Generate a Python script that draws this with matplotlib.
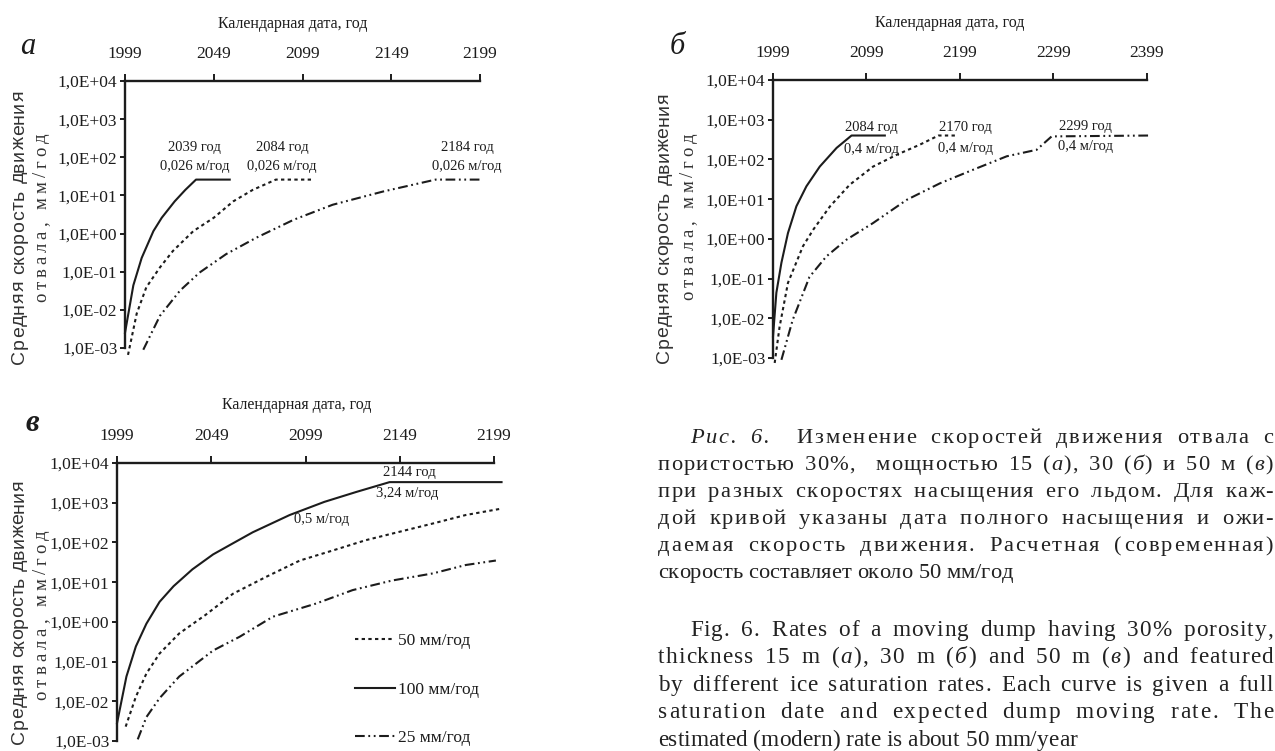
import matplotlib
matplotlib.use("Agg")
import matplotlib.pyplot as plt
from matplotlib.ticker import NullLocator
from matplotlib.font_manager import FontProperties, findfont
from matplotlib import ft2font

W, H = 1275, 751
SERIF = "Liberation Serif"
SANS = "Liberation Sans"
plt.rcParams["font.family"] = [SERIF, "DejaVu Serif"]
plt.rcParams["lines.scale_dashes"] = False

# ---- data (year, mm/год) ----
decades = [-3, -2, -1, 0, 1, 2, 3, 4]

# panel а : 15 m
a_ticks = [1999, 2049, 2099, 2149, 2199]
a_years_100 = [1999, 2003.7, 2008.4, 2015, 2019.7, 2027, 2033, 2039, 2058]
a_rate_100 = [2.5e-3, 0.044, 0.23, 1.16, 2.6, 7, 14, 26, 26]
a_years_50 = [2000.7, 2005.6, 2011, 2018.7, 2026, 2037.5, 2049, 2060, 2071, 2084, 2105]
a_rate_50 = [6.6e-4, 8e-3, 0.039, 0.13, 0.35, 1.16, 2.6, 7, 14, 26, 26]
a_years_25 = [2009.3, 2018.7, 2030, 2041, 2056, 2073, 2094, 2116, 2144.5, 2174, 2199]
a_rate_25 = [9e-4, 7e-3, 0.032, 0.095, 0.29, 0.78, 2.3, 5.7, 12.7, 26, 26]

# panel б : 30 m
b_ticks = [1999, 2099, 2199, 2299, 2399]
b_years_100 = [1999, 2002.6, 2008, 2015, 2024, 2034.7, 2049, 2067, 2083, 2118.6]
b_rate_100 = [3.5e-3, 0.044, 0.25, 1.4, 6.6, 21, 66, 195, 400, 400]
b_years_50 = [2000.8, 2006, 2015, 2031, 2042, 2060, 2081, 2106, 2131, 2156, 2176, 2197]
b_rate_50 = [7.5e-4, 6e-3, 0.078, 0.65, 1.7, 6.6, 23, 66, 130, 235, 400, 400]
b_years_25 = [2008, 2020, 2038, 2056, 2077.5, 2106, 2142, 2177.5, 2213, 2249, 2281, 2297, 2402]
b_rate_25 = [9e-4, 9e-3, 0.11, 0.36, 0.95, 2.5, 9.6, 25, 55, 120, 175, 380, 400]

# panel в : 50 m
c_ticks = [1999, 2049, 2099, 2149, 2199]
c_years_100 = [1999, 2004, 2009, 2014.6, 2021.6, 2029, 2039, 2050, 2060.5, 2071,
               2090.6, 2109, 2126, 2143.6, 2203]
c_rate_100 = [2.8e-3, 0.042, 0.24, 0.9, 3.2, 7.9, 21, 50, 95, 180, 490, 1050, 1870, 3300, 3300]
c_years_50 = [2003.6, 2009, 2014.6, 2021.6, 2032, 2046, 2060.5, 2078, 2096, 2113.6, 2131,
              2149, 2166.6, 2184, 2203]
c_rate_50 = [2.3e-3, 0.013, 0.05, 0.16, 0.51, 1.5, 5.1, 13.5, 35, 63, 114, 186, 300, 490, 710]
c_years_25 = [2010, 2014.6, 2021.6, 2032, 2050, 2064, 2081.7, 2104.7, 2124, 2145, 2166.6,
              2184, 2200]
c_rate_25 = [1.1e-3, 4e-3, 0.012, 0.042, 0.19, 0.42, 1.35, 2.9, 6.3, 11, 16.6, 27, 35]

legend_labels = ["50 мм/год", "100 мм/год", "25 мм/год"]

caption_ru = [
    "*Рис. 6.*  Изменение скоростей движения отвала с",
    "пористостью 30%,  мощностью 15 (*а*), 30 (*б*) и 50 м (*в*)",
    "при разных скоростях насыщения его льдом. Для каж-",
    "дой кривой указаны дата полного насыщения и ожи-",
    "даемая скорость движения. Расчетная (современная)",
    "скорость составляет около 50 мм/год",
]
caption_en = [
    "Fig. 6. Rates of a moving dump having 30% porosity,",
    "thickness 15 m (*а*), 30 m (*б*) and 50 m (*в*) and featured",
    "by different ice saturation rates. Each curve is given a full",
    "saturation date and expected dump moving rate. The",
    "estimated (modern) rate is about 50 mm/year",
]

INK = "#1c1c1c"
GREY = "#333333"
st_100 = dict(ls="-")
st_50 = dict(ls=(0, (2.4, 2.4)))
st_25 = dict(ls=(0, (7, 2.6, 1.3, 2.6, 1.3, 2.6)))

fig = plt.figure(figsize=(W / 100, H / 100), dpi=100)


def axes_px(l, t, r, b):
    return fig.add_axes([l / W, 1 - b / H, (r - l) / W, (b - t) / H])


def ftext(x, y, s, **kw):
    return fig.text(x / W, 1 - y / H, s, **kw)


# advance widths of single glyphs, in pixels
try:
    NO_SCALE = ft2font.LoadFlags.NO_SCALE
except AttributeError:
    NO_SCALE = ft2font.LOAD_NO_SCALE
_fonts = {}


def adv(c, family, style, size):
    key = (family, style)
    if key not in _fonts:
        _fonts[key] = ft2font.FT2Font(findfont(FontProperties(family=family, style=style)))
    f = _fonts[key]
    g = f.load_char(ord(c), flags=NO_SCALE)
    return g.horiAdvance / f.units_per_EM * size * 100 / 72


def vtext(cx, cy, s, size, family, length):
    ws = [adv(c, family, "normal", size) for c in s]
    t = (length - sum(ws)) / (len(s) - 1)
    y = cy + length / 2
    xb = cx + 0.34 * size * 100 / 72
    for c, w in zip(s, ws):
        if c != " ":
            ftext(xb, y, c, rotation=90, rotation_mode="anchor", ha="left",
                  va="baseline", fontsize=size, family=family, color=GREY)
        y -= w + t


def setup(ax, ticks):
    ax.set_yscale("log")
    ax.set_ylim(1e-3, 1e4)
    ax.set_xlim(ticks[0], ticks[-1])
    ax.set_xticks(ticks)
    ax.set_xticklabels([str(t) for t in ticks])
    ax.set_yticks([10.0 ** e for e in decades])
    ax.set_yticklabels([f"1,0E{e:+03d}" for e in decades])
    ax.yaxis.set_minor_locator(NullLocator())
    ax.xaxis.tick_top()
    for s in ["right", "bottom"]:
        ax.spines[s].set_visible(False)
    for s in ["top", "left"]:
        ax.spines[s].set_linewidth(1.7)
        ax.spines[s].set_color(INK)
    ax.tick_params(axis="x", direction="out", length=5, width=1.4, pad=9,
                   labelsize=12.5, colors=INK)
    ax.tick_params(axis="y", direction="out", length=3.5, width=1.4, pad=2,
                   labelsize=12.5, colors=INK)
    ax.patch.set_visible(False)


def curves(ax, y100, r100, y50, r50, y25, r25):
    l50, = ax.plot(y50, r50, color=INK, lw=1.5, clip_on=False, **st_50)
    l100, = ax.plot(y100, r100, color=INK, lw=1.5, clip_on=False, **st_100)
    l25, = ax.plot(y25, r25, color=INK, lw=1.5, clip_on=False, **st_25)
    return [l50, l100, l25]


def ylabel(x1, y1, len1, x2, y2, len2):
    vtext(x1, y1, "Средняя скорость движения", 14, SANS, len1)
    vtext(x2, y2, "отвала, мм/год", 13.5, SERIF, len2)


ann = dict(fontsize=10.5, ha="center", va="center", color=INK)
xlab = dict(ha="center", va="center", fontsize=11.5, color=INK)

# ---- panel а ----
ax_a = axes_px(125, 81, 480, 348)
setup(ax_a, a_ticks)
curves(ax_a, a_years_100, a_rate_100, a_years_50, a_rate_50, a_years_25, a_rate_25)
for xt, lab in [(2038.4, "2039 год"), (2087.5, "2084 год"), (2191.7, "2184 год")]:
    ax_a.text(xt, 186, lab, **ann)
    ax_a.text(xt, 56, "0,026 м/год", **ann)
ftext(293, 24, "Календарная дата, год", **xlab)
ftext(28, 47, "а", ha="center", va="center", fontsize=22, style="italic", color=INK)
ylabel(17.5, 227, 273, 40, 218, 169)

# ---- panel б ----
ax_b = axes_px(773, 80, 1147, 358)
setup(ax_b, b_ticks)
curves(ax_b, b_years_100, b_rate_100, b_years_50, b_rate_50, b_years_25, b_rate_25)
for xt, yt1, yt2, lab in [(2104.4, 620, 174, "2084 год"), (2205, 630, 190, "2170 год"),
                          (2333, 675, 210, "2299 год")]:
    ax_b.text(xt, yt1, lab, **ann)
    ax_b.text(xt, yt2, "0,4 м/год", **ann)
ftext(950, 23, "Календарная дата, год", **xlab)
ftext(677, 47, "б", ha="center", va="center", fontsize=22, style="italic", color=INK)
ylabel(662, 228, 270, 687, 217, 167)

# ---- panel в ----
ax_c = axes_px(117, 463, 494, 741)
setup(ax_c, c_ticks)
handles = curves(ax_c, c_years_100, c_rate_100, c_years_50, c_rate_50, c_years_25, c_rate_25)
ax_c.text(2154.3, 5900, "2144 год", **ann)
ax_c.text(2153.2, 1740, "3,24 м/год", **ann)
ax_c.text(2107.6, 380, "0,5 м/год", **ann)
ftext(297, 405, "Календарная дата, год", **xlab)
ftext(32, 423, "в", ha="center", va="center", fontsize=22, style="italic",
      weight="bold", color=INK)
ylabel(17, 612, 263, 40, 615, 170)
ax_c.legend(handles=handles, labels=legend_labels, loc="upper left",
            bbox_to_anchor=(355 / W, 1 - 633 / H), bbox_transform=fig.transFigure,
            frameon=False, fontsize=12.5, handlelength=2.3, handletextpad=0.15,
            labelspacing=1.86, borderpad=0, borderaxespad=0, labelcolor=INK)


# ---- justified caption, extra space spread over letters and word gaps ----
def chars_of(line):
    out, ital = [], False
    for ch in line:
        if ch == "*":
            ital = not ital
        else:
            out.append((ch, ital))
    return out


def paragraph(lines, baselines, left, right, indent, last_width, space_weight):
    last = chars_of(lines[-1])
    size = last_width / sum(adv(c, SERIF, "italic" if i else "normal", 1.0) for c, i in last)
    for k, (line, yb) in enumerate(zip(lines, baselines)):
        cs = chars_of(line)
        ws = [adv(c, SERIF, "italic" if i else "normal", size) for c, i in cs]
        x = left + (indent if k == 0 else 0)
        wts = [space_weight if c == " " else 1.0 for c, _ in cs[:-1]]
        u = 0.0
        if k < len(lines) - 1:
            u = (right - x - sum(ws)) / sum(wts)
        for j, ((c, ital), w) in enumerate(zip(cs, ws)):
            if c != " ":
                ftext(x, yb, c, fontsize=size, style="italic" if ital else "normal",
                      ha="left", va="baseline", color="#222222")
            if j < len(wts):
                x += w + wts[j] * u


paragraph(caption_ru, [443, 470, 497, 524, 551, 578], 658, 1273, 32, 355, 4.0)
paragraph(caption_en, [636, 663, 691, 718, 746], 658, 1273, 32, 419, 5.0)

fig.savefig("out.png", dpi=100)
